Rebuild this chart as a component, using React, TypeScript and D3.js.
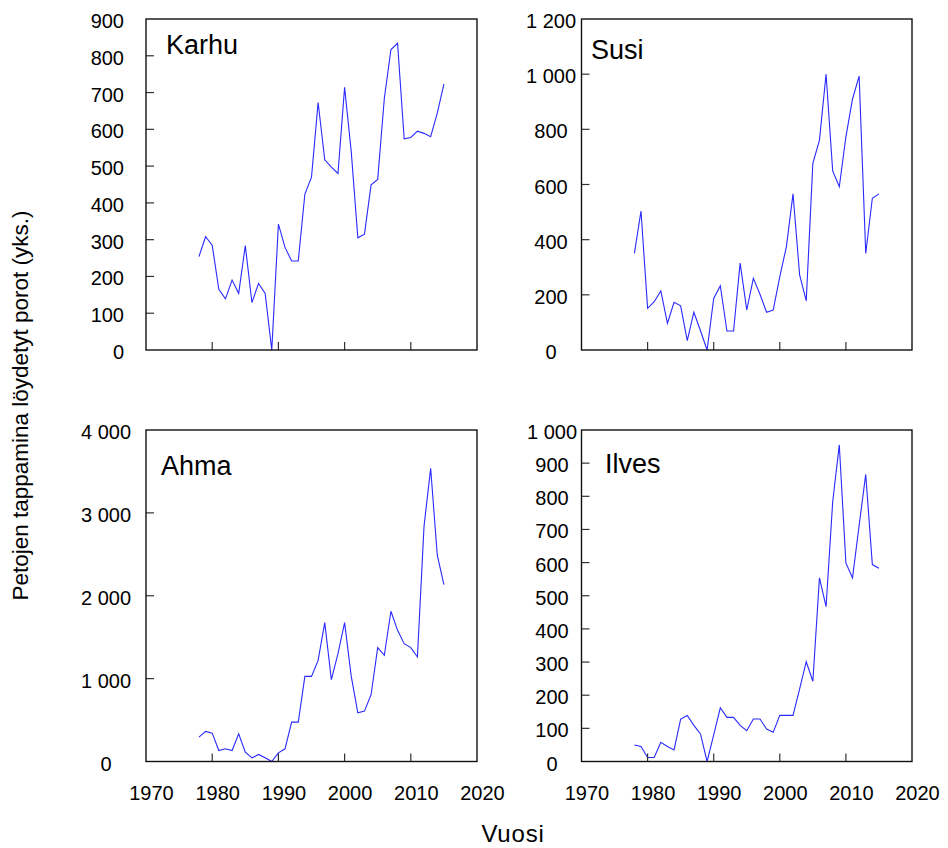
import React from "react";
import * as d3 from "d3";

const years = d3.range(1978, 2016);

const karhu = [254, 308, 285, 165, 139, 190, 154, 284, 129, 181, 154, 0, 342, 279, 242, 242, 424, 470, 673, 517, 497, 480, 714, 540, 305, 315, 449, 464, 684, 817, 834, 574, 578, 595, 589, 580, 644, 723];
const susi = [350, 504, 151, 175, 214, 97, 173, 160, 34, 137, 70, 0, 187, 233, 69, 69, 315, 145, 260, 202, 137, 145, 266, 375, 566, 272, 178, 677, 761, 1000, 649, 592, 773, 910, 993, 350, 550, 566];
const ahma = [294, 363, 342, 133, 153, 133, 334, 113, 44, 85, 44, 0, 105, 153, 475, 475, 1027, 1027, 1220, 1676, 987, 1301, 1676, 1030, 588, 608, 806, 1374, 1281, 1813, 1583, 1422, 1374, 1261, 2840, 3537, 2489, 2135];
const ilves = [50, 45, 12, 12, 58, 45, 35, 128, 139, 109, 83, 0, 80, 162, 133, 133, 109, 93, 128, 128, 98, 88, 139, 139, 139, 219, 301, 242, 554, 467, 783, 955, 599, 554, 712, 866, 594, 583];

const xTicks = [1970, 1980, 1990, 2000, 2010, 2020];
const karhuTicks = [0, 100, 200, 300, 400, 500, 600, 700, 800, 900];
const susiTicks = [0, 200, 400, 600, 800, 1000, 1200];
const ahmaTicks = [0, 1000, 2000, 3000, 4000];
const ilvesTicks = [0, 100, 200, 300, 400, 500, 600, 700, 800, 900, 1000];

const titles = ["Karhu", "Susi", "Ahma", "Ilves"];
const yAxisTitle = "Petojen tappamina löydetyt porot (yks.)";
const xAxisTitle = "Vuosi";

const fiLocale = d3.formatLocale({ decimal: ",", thousands: "\u00a0", grouping: [3], currency: ["", " €"] });
const fmt = fiLocale.format(",d");

const FONT = "'Liberation Sans', Arial, Helvetica, sans-serif";

type PanelProps = {
  title: string;
  values: number[];
  yTicks: number[];
  x0: number; x1: number; y0: number; y1: number;
  showXLabels: boolean;
  labelAnchor: "end" | "middle";
  labelX: number;
  titleX: number; titleY: number;
};

function Panel(p: PanelProps) {
  const x = d3.scaleLinear().domain([1970, 2020]).range([p.x0, p.x1]);
  const yMax = p.yTicks[p.yTicks.length - 1];
  const y = d3.scaleLinear().domain([0, yMax]).range([p.y1, p.y0]);
  const line = d3.line<number>().x((_, i) => x(years[i])).y((v) => y(v));
  const tick = 8;
  return (
    <g>
      <path d={line(p.values) || ""} fill="none" stroke="#2a2aff" strokeWidth={1.1} />
      {p.yTicks.map((t) => (
        <g key={"y" + t}>
          {t !== 0 && t !== yMax && (
            <line x1={p.x0} x2={p.x0 + tick} y1={y(t)} y2={y(t)} stroke="#333" strokeWidth={1.2} />
          )}
          <text x={p.labelX} y={y(t) + 9} textAnchor={p.labelAnchor} fontSize={20} fontFamily={FONT} fill="#000">
            {fmt(t)}
          </text>
        </g>
      ))}
      {xTicks.map((t) => (
        <g key={"x" + t}>
          {t !== 1970 && t !== 2020 && (
            <line x1={x(t)} x2={x(t)} y1={p.y1} y2={p.y1 - tick} stroke="#333" strokeWidth={1.2} />
          )}
          {p.showXLabels && (
            <text x={x(t) + 5.5} y={p.y1 + 38} textAnchor="middle" fontSize={20} fontFamily={FONT} fill="#000">
              {t}
            </text>
          )}
        </g>
      ))}
      <rect x={p.x0} y={p.y0} width={p.x1 - p.x0} height={p.y1 - p.y0} fill="none" stroke="#111" strokeWidth={1.4} />
      <text x={p.titleX} y={p.titleY} fontSize={27} fontFamily={FONT} fill="#000">{p.title}</text>
    </g>
  );
}

export default function App() {
  return (
    <svg width={948} height={848} style={{ position: "absolute", left: 0, top: 0, background: "#fff" }}>
      <rect x={0} y={0} width={948} height={848} fill="#fff" />
      <Panel title={titles[0]} values={karhu} yTicks={karhuTicks} x0={146} x1={477} y0={19} y1={350}
        showXLabels={false} labelAnchor="end" labelX={124} titleX={166} titleY={54} />
      <Panel title={titles[1]} values={susi} yTicks={susiTicks} x0={581.5} x1={912} y0={19} y1={350}
        showXLabels={false} labelAnchor="middle" labelX={551} titleX={591} titleY={59} />
      <Panel title={titles[2]} values={ahma} yTicks={ahmaTicks} x0={146} x1={477} y0={430} y1={761.5}
        showXLabels={true} labelAnchor="middle" labelX={106} titleX={161} titleY={475} />
      <Panel title={titles[3]} values={ilves} yTicks={ilvesTicks} x0={581.5} x1={912} y0={430} y1={761.5}
        showXLabels={true} labelAnchor="middle" labelX={552} titleX={605} titleY={473} />
      <text transform="translate(28,405.5) rotate(-90)" textAnchor="middle" fontSize={22.5} fontFamily={FONT} fill="#000">
        {yAxisTitle}
      </text>
      <text x={513} y={842} textAnchor="middle" fontSize={24} letterSpacing={0.8} fontFamily={FONT} fill="#000">
        {xAxisTitle}
      </text>
    </svg>
  );
}
